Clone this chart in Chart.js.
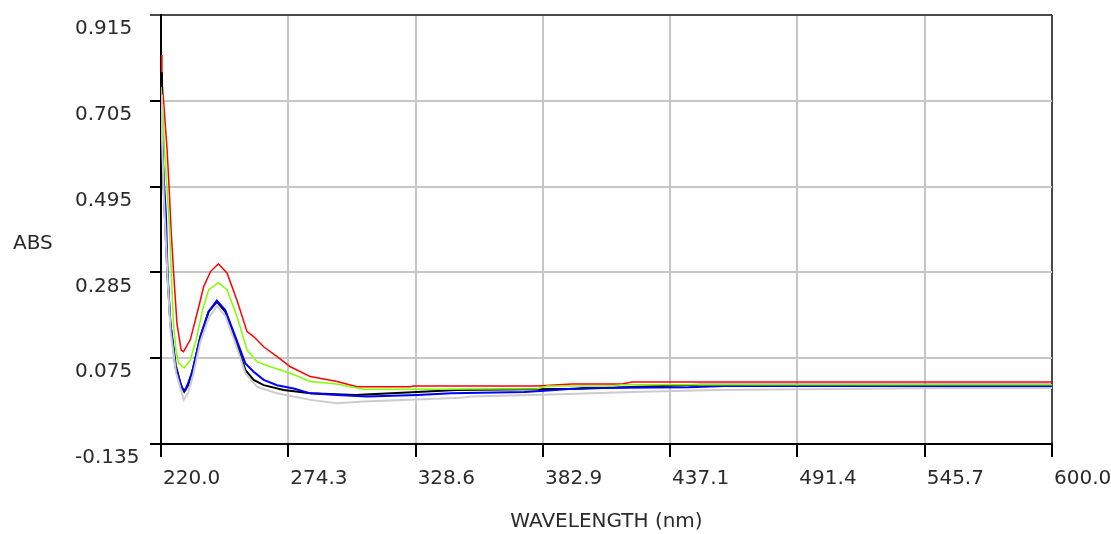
<!DOCTYPE html>
<html>
<head>
<meta charset="utf-8">
<script src="https://cdn.jsdelivr.net/npm/chart.js@4"></script>
<style>
  body { margin: 0; background: #fff; }
  #wrap { width: 1111px; height: 534px; position: relative; }
</style>
</head>
<body>
<div id="wrap"><canvas id="spectrum"></canvas></div>
<script>
// axis ticks
const xTicks = [220.0, 274.3, 328.6, 382.9, 437.1, 491.4, 545.7, 600.0];
const yTicks = [-0.135, 0.075, 0.285, 0.495, 0.705, 0.915];

// spectra (wavelength nm / absorbance)
const redNm = [220.0, 220.4, 221.4, 222.6, 223.5, 224.3, 225.4, 226.8, 228.6, 229.6, 232.5, 235.4, 238.2, 241.1, 244.5, 248.2, 252.4, 256.7, 259.5, 263.8, 269.5, 275.2, 283.7, 295.1, 303.6, 326.3, 327.7, 380.5, 395.3, 416.6, 420.9, 600.0];
const redAbs = [0.817, 0.756, 0.682, 0.585, 0.487, 0.389, 0.283, 0.160, 0.095, 0.091, 0.120, 0.185, 0.250, 0.287, 0.306, 0.283, 0.217, 0.140, 0.128, 0.103, 0.079, 0.054, 0.030, 0.018, 0.005, 0.005, 0.007, 0.007, 0.012, 0.012, 0.017, 0.017];

const greenNm = [220.0, 220.8, 221.5, 222.6, 223.7, 224.4, 225.3, 226.4, 227.5, 229.9, 232.5, 235.0, 237.7, 240.3, 244.5, 248.2, 252.4, 256.7, 261.0, 266.7, 275.2, 283.7, 295.1, 306.4, 326.3, 380.5, 384.8, 412.5, 416.7, 445.7, 600.0];
const greenAbs = [0.739, 0.683, 0.585, 0.487, 0.389, 0.283, 0.160, 0.095, 0.063, 0.051, 0.071, 0.120, 0.193, 0.242, 0.260, 0.242, 0.177, 0.095, 0.066, 0.054, 0.038, 0.018, 0.012, -0.001, -0.001, 0.000, 0.007, 0.007, 0.010, 0.010, 0.010];

const blueNm = [220.0, 220.4, 221.2, 222.1, 222.8, 224.0, 226.1, 229.0, 230.4, 233.2, 236.8, 240.3, 243.8, 247.4, 251.7, 256.0, 259.5, 263.8, 269.5, 276.6, 283.7, 295.1, 307.9, 329.3, 343.8, 375.0, 385.0, 400.0, 445.0, 460.0, 600.0];
const blueAbs = [0.707, 0.609, 0.511, 0.426, 0.283, 0.160, 0.054, 0.001, -0.003, 0.038, 0.128, 0.189, 0.216, 0.193, 0.128, 0.062, 0.042, 0.022, 0.009, 0.001, -0.011, -0.015, -0.019, -0.015, -0.011, -0.008, -0.004, 0.002, 0.004, 0.007, 0.007];

const blackNm = [220.0, 220.4, 221.1, 222.7, 224.0, 226.3, 228.5, 229.9, 231.6, 233.7, 236.8, 240.3, 243.8, 247.4, 251.7, 256.0, 259.5, 263.8, 272.3, 283.7, 302.9, 331.3, 346.0, 399.0, 424.0, 450.0, 600.0];
const blackAbs = [0.775, 0.658, 0.494, 0.283, 0.160, 0.058, 0.009, -0.007, 0.009, 0.051, 0.128, 0.189, 0.213, 0.189, 0.120, 0.046, 0.022, 0.009, -0.003, -0.011, -0.015, -0.007, -0.003, 0.000, 0.005, 0.010, 0.010];

const grayNm = [220.0, 220.4, 221.2, 222.8, 224.1, 226.4, 228.6, 229.7, 231.6, 233.7, 236.8, 240.3, 243.8, 247.4, 251.7, 256.0, 261.0, 269.5, 283.7, 295.1, 306.4, 326.3, 348.0, 352.0, 390.0, 421.0, 457.0, 556.0, 600.0];
const grayAbs = [0.720, 0.620, 0.470, 0.270, 0.140, 0.040, -0.005, -0.027, -0.010, 0.034, 0.115, 0.173, 0.203, 0.179, 0.112, 0.038, 0.005, -0.011, -0.027, -0.035, -0.031, -0.027, -0.022, -0.019, -0.013, -0.008, -0.003, 0.002, 0.002];

const pts = (xs, ys) => xs.map((x, i) => ({ x: x, y: ys[i] }));

const textColor = '#2a2a2a';
const frameColor = '#4a4a4a';
const gridColor = '#c6c6c6';

Chart.defaults.font.family = 'DejaVu Sans';
Chart.defaults.font.size = 20;
Chart.defaults.color = textColor;

// horizontal "ABS" label left of the y axis
const absLabel = {
  id: 'absLabel',
  afterDraw(chart) {
    const { ctx, chartArea } = chart;
    ctx.save();
    ctx.font = '20px "DejaVu Sans"';
    ctx.fillStyle = textColor;
    ctx.textAlign = 'left';
    ctx.textBaseline = 'middle';
    ctx.fillText('ABS', 13, (chartArea.top + chartArea.bottom) / 2 + 14);
    ctx.restore();
  }
};

const line = (data, color, width) => ({
  data: data,
  borderColor: color,
  borderWidth: width,
  pointRadius: 0,
  tension: 0,
  fill: false
});

new Chart(document.getElementById('spectrum'), {
  type: 'line',
  data: {
    datasets: [
      line(pts(grayNm, grayAbs), '#cccccc', 2),
      line(pts(greenNm, greenAbs), '#80ff00', 1.5),
      line(pts(blueNm, blueAbs), '#0000ff', 2),
      line(pts(blackNm, blackAbs), '#000000', 2),
      line(pts(redNm, redAbs), '#ff0000', 1.5)
    ]
  },
  options: {
    responsive: true,
    maintainAspectRatio: false,
    animation: false,
    layout: { padding: { left: 75, right: 59, top: 15, bottom: 0 } },
    plugins: { legend: { display: false }, tooltip: { enabled: false } },
    scales: {
      x: {
        type: 'linear',
        min: 220,
        max: 600,
        afterBuildTicks: s => { s.ticks = xTicks.map(v => ({ value: v })); },
        afterFit: s => { s.height = 90; s.paddingLeft = 0; s.paddingRight = 0; },
        ticks: {
          autoSkip: false,
          maxRotation: 0,
          align: 'start',
          labelOffset: 2,
          padding: 10,
          callback: v => v.toFixed(1)
        },
        grid: {
          color: c => (c.tick && c.tick.value === 600 ? frameColor : gridColor),
          lineWidth: 2,
          tickLength: 13,
          tickColor: '#000',
          tickWidth: 2
        },
        border: { color: '#000', width: 2 },
        title: {
          display: true,
          text: 'WAVELENGTH (nm)',
          padding: { top: 0, bottom: 0 }
        }
      },
      y: {
        min: -0.135,
        max: 0.915,
        afterBuildTicks: s => { s.ticks = yTicks.map(v => ({ value: v })); },
        afterFit: s => { s.width = 86; s.paddingTop = 0; s.paddingBottom = 0; },
        ticks: {
          crossAlign: 'far',
          labelOffset: 14,
          callback: v => v.toFixed(3)
        },
        grid: {
          color: c => (c.tick && c.tick.value === 0.915 ? frameColor : gridColor),
          lineWidth: 2,
          tickLength: 11,
          tickColor: c => (c.tick && c.tick.value === 0.915 ? frameColor : '#000'),
          tickWidth: 2
        },
        border: { color: '#000', width: 2 }
      }
    }
  },
  plugins: [absLabel]
});
</script>
</body>
</html>
